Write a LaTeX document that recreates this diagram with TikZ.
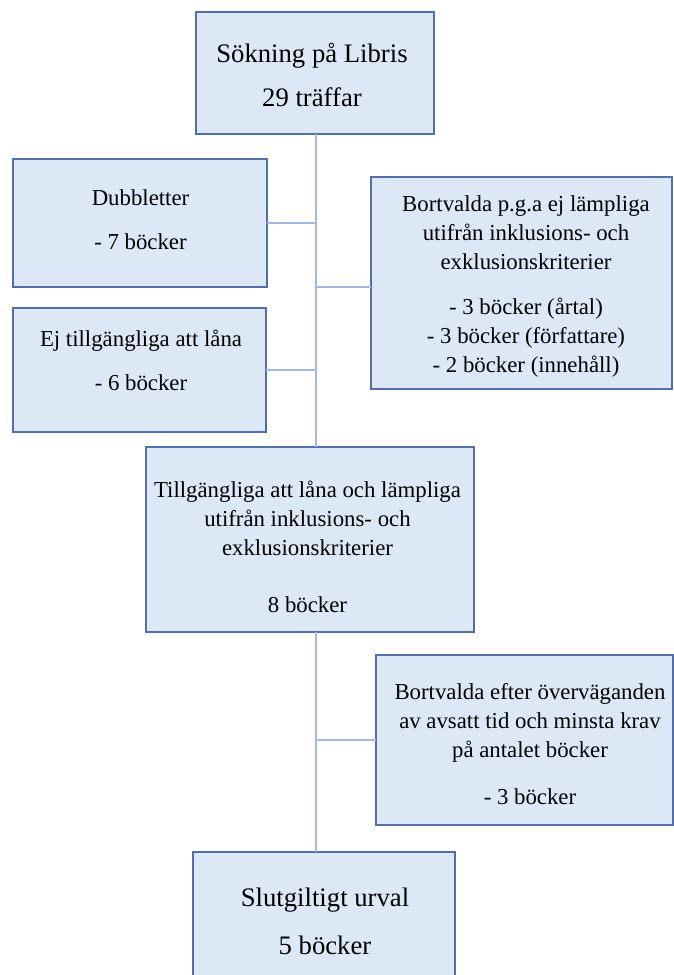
\documentclass[tikz,border=0pt]{standalone}
\usepackage{fontspec}
\setmainfont{Liberation Serif}
\definecolor{boxfill}{RGB}{221,232,246}
\definecolor{boxline}{RGB}{84,110,170}
\definecolor{connline}{RGB}{164,184,228}
\tikzset{
  box/.style={draw=boxline, fill=boxfill, line width=1.6pt, inner sep=0pt, outer sep=0pt},
  connector/.style={draw=connline, line width=1.6pt},
  bigtxt/.style={font=\fontsize{26.7}{44}\selectfont, align=center, inner sep=0pt},
  midtxt/.style={font=\fontsize{22.8}{44}\selectfont, align=center, inner sep=0pt},
  smalltxt/.style={font=\fontsize{22.8}{29}\selectfont, align=center, inner sep=0pt},
}
\begin{document}
\begin{tikzpicture}[x=1pt,y=-1pt]
\useasboundingbox (0,0) rectangle (674,975);
\clip (0,0) rectangle (674,975);
\fill[white] (0,0) rectangle (674,975);
\coordinate (spine) at (316,0);
\coordinate (j2) at (316,287);

% connectors (behind boxes)
\node[box, minimum width=238pt, minimum height=122pt] (top) at (315,73) {};
\node[box, minimum width=254pt, minimum height=128pt] (dub) at (140,223) {};
\node[box, minimum width=301pt, minimum height=212pt] (bort) at (521.5,283) {};
\node[box, minimum width=253pt, minimum height=124pt] (ej) at (139.5,370) {};
\node[box, minimum width=328pt, minimum height=185pt] (till) at (310,539.5) {};
\node[box, minimum width=297pt, minimum height=170pt] (eft) at (524.5,740) {};
\node[box, minimum width=262pt, minimum height=138pt] (slut) at (324,921) {};

\draw[connector] (top.south -| spine) -- (till.north -| spine);
\draw[connector] (till.south -| spine) -- (slut.north -| spine);
\draw[connector] (dub.east) -- (dub.east -| spine);
\draw[connector] (j2) -- (j2 -| bort.west);
\draw[connector] (ej.east) -- (ej.east -| spine);
\draw[connector] (eft.west) -- (eft.west -| spine);

\node[bigtxt] (toptxt) at (312,75) {Sökning på Libris\\29 träffar};
\node[midtxt] (dubtxt) at (140.5,220) {Dubbletter\\- 7 böcker};
\node[smalltxt] (borttxt) at (526,287) {Bortvalda p.g.a ej lämpliga\\utifrån inklusions- och\\exklusionskriterier\\[16pt]- 3 böcker (årtal)\\- 3 böcker (författare)\\- 2 böcker (innehåll)};
\node[midtxt] (ejtxt) at (141,360.5) {Ej tillgängliga att låna\\- 6 böcker};
\node[smalltxt] (tilltxt) at (307.5,546.5) {Tillgängliga att låna och lämpliga\\utifrån inklusions- och\\exklusionskriterier\\[28pt]8 böcker};
\node[smalltxt] (efttxt) at (530,744) {Bortvalda efter överväganden\\av avsatt tid och minsta krav\\på antalet böcker\\[18pt]- 3 böcker};
\node[bigtxt, font=\fontsize{26.7}{48}\selectfont] (sluttxt) at (325,921) {Slutgiltigt urval\\5 böcker};
\end{tikzpicture}
\end{document}
